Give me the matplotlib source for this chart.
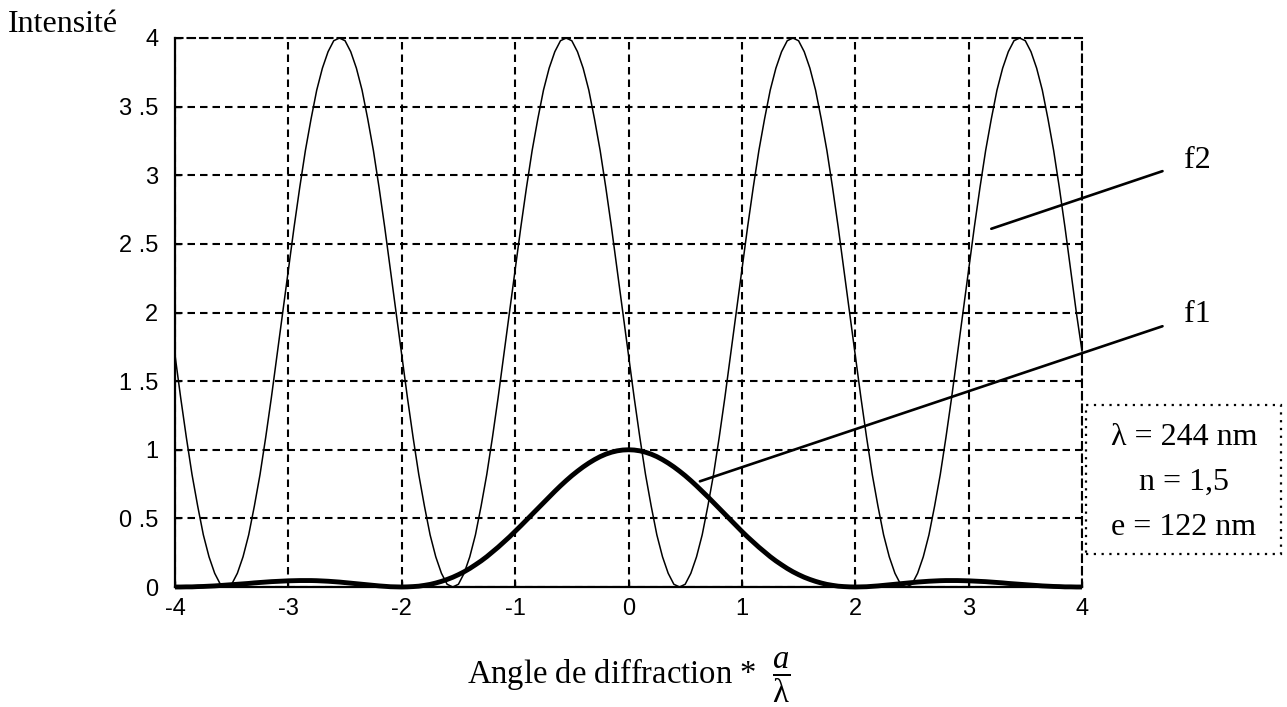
import numpy as np
import matplotlib
matplotlib.use("Agg")
import matplotlib.pyplot as plt
from matplotlib.patches import Rectangle

plt.rcParams['font.family'] = ['Liberation Serif', 'DejaVu Serif']
plt.rcParams['mathtext.fontset'] = 'custom'
plt.rcParams['mathtext.rm'] = 'Liberation Serif'
plt.rcParams['mathtext.it'] = 'Liberation Serif:italic'

# ---------------------------------------------------
# DATA
# ---------------------------------------------------
# sample positions (angle * a / lambda), step 0.05
angle = np.linspace(-4, 4, 161)

# f1 : diffraction by one slit
f1 = [0.000, 0.000, 0.001, 0.001, 0.003, 0.004, 0.006, 0.008, 0.011, 0.014,
      0.017, 0.020, 0.023, 0.026, 0.030, 0.033, 0.036, 0.039, 0.041, 0.043,
      0.045, 0.046, 0.047, 0.047, 0.047, 0.046, 0.044, 0.042, 0.039, 0.036,
      0.032, 0.028, 0.024, 0.020, 0.016, 0.012, 0.008, 0.005, 0.002, 0.001,
      0.000, 0.001, 0.003, 0.006, 0.012, 0.019, 0.029, 0.041, 0.055, 0.071,
      0.090, 0.111, 0.135, 0.162, 0.190, 0.221, 0.255, 0.290, 0.327, 0.365,
      0.405, 0.446, 0.488, 0.530, 0.573, 0.615, 0.657, 0.697, 0.737, 0.775,
      0.811, 0.844, 0.875, 0.903, 0.928, 0.950, 0.968, 0.982, 0.992, 0.998,
      1.000,
      0.998, 0.992, 0.982, 0.968, 0.950, 0.928, 0.903, 0.875, 0.844, 0.811,
      0.775, 0.737, 0.697, 0.657, 0.615, 0.573, 0.530, 0.488, 0.446, 0.405,
      0.365, 0.327, 0.290, 0.255, 0.221, 0.190, 0.162, 0.135, 0.111, 0.090,
      0.071, 0.055, 0.041, 0.029, 0.019, 0.012, 0.006, 0.003, 0.001, 0.000,
      0.001, 0.002, 0.005, 0.008, 0.012, 0.016, 0.020, 0.024, 0.028, 0.032,
      0.036, 0.039, 0.042, 0.044, 0.046, 0.047, 0.047, 0.047, 0.046, 0.045,
      0.043, 0.041, 0.039, 0.036, 0.033, 0.030, 0.026, 0.023, 0.020, 0.017,
      0.014, 0.011, 0.008, 0.006, 0.004, 0.003, 0.001, 0.001, 0.000, 0.000]

# f2 : interference term
f2 = [1.69, 1.38, 1.09, 0.82, 0.59, 0.38, 0.22, 0.10, 0.02, 0.00,
      0.02, 0.10, 0.22, 0.38, 0.59, 0.82, 1.09, 1.38, 1.69, 2.00,
      2.31, 2.62, 2.91, 3.18, 3.41, 3.62, 3.78, 3.90, 3.98, 4.00,
      3.98, 3.90, 3.78, 3.62, 3.41, 3.18, 2.91, 2.62, 2.31, 2.00,
      1.69, 1.38, 1.09, 0.82, 0.59, 0.38, 0.22, 0.10, 0.02, 0.00,
      0.02, 0.10, 0.22, 0.38, 0.59, 0.82, 1.09, 1.38, 1.69, 2.00,
      2.31, 2.62, 2.91, 3.18, 3.41, 3.62, 3.78, 3.90, 3.98, 4.00,
      3.98, 3.90, 3.78, 3.62, 3.41, 3.18, 2.91, 2.62, 2.31, 2.00,
      1.69, 1.38, 1.09, 0.82, 0.59, 0.38, 0.22, 0.10, 0.02, 0.00,
      0.02, 0.10, 0.22, 0.38, 0.59, 0.82, 1.09, 1.38, 1.69, 2.00,
      2.31, 2.62, 2.91, 3.18, 3.41, 3.62, 3.78, 3.90, 3.98, 4.00,
      3.98, 3.90, 3.78, 3.62, 3.41, 3.18, 2.91, 2.62, 2.31, 2.00,
      1.69, 1.38, 1.09, 0.82, 0.59, 0.38, 0.22, 0.10, 0.02, 0.00,
      0.02, 0.10, 0.22, 0.38, 0.59, 0.82, 1.09, 1.38, 1.69, 2.00,
      2.31, 2.62, 2.91, 3.18, 3.41, 3.62, 3.78, 3.90, 3.98, 4.00,
      3.98, 3.90, 3.78, 3.62, 3.41, 3.18, 2.91, 2.62, 2.31, 2.00,
      1.72]

xticks = [-4, -3, -2, -1, 0, 1, 2, 3, 4]
xtick_labels = ['-4', '-3', '-2', '-1', '0', '1', '2', '3', '4']
yticks = [0, 0.5, 1, 1.5, 2, 2.5, 3, 3.5, 4]
ytick_labels = ['0', '0 .5', '1', '1 .5', '2', '2 .5', '3', '3 .5', '4']

params = ['λ = 244 nm', 'n = 1,5', 'e = 122 nm']

# ---------------------------------------------------
# PLOT
# ---------------------------------------------------
W, H = 1287, 707
fig = plt.figure(figsize=(W / 100, H / 100), dpi=100)
ax = fig.add_axes([175 / W, 1 - 587 / H, (1082 - 175) / W, (587 - 38) / H])

dash = (0, (3.6, 2.4))

ax.plot(angle, f2, color='black', lw=1.1, clip_on=False, zorder=3)
ax.plot(angle, f1, color='black', lw=3.5, clip_on=False, zorder=4,
        solid_capstyle='butt')

ax.set_xlim(-4, 4)
ax.set_ylim(0, 4)
ax.set_xticks(xticks)
ax.set_xticklabels(xtick_labels, family='Liberation Sans', fontsize=17)
ax.set_yticks(yticks)
ax.set_yticklabels(ytick_labels, family='Liberation Sans', fontsize=17)
ax.tick_params(direction='in', length=4, width=1)
ax.tick_params(axis='x', pad=8)
ax.tick_params(axis='y', pad=12)

ax.grid(True, color='black', lw=1.5, linestyle=dash)
for side in ['top', 'right']:
    ax.spines[side].set_linestyle(dash)
    ax.spines[side].set_linewidth(1.5)
for side in ['left', 'bottom']:
    ax.spines[side].set_linewidth(1.6)

# axis titles
fig.text(8 / W, 1 - 32 / H, 'Intensité', fontsize=23, va='baseline')
ax.set_xlabel(r'Angle de diffraction *  $\dfrac{a}{\mathrm{\lambda}}$',
              fontsize=23.5, labelpad=22)

# curve labels
ax.annotate('', xy=(3.2, 2.61), xytext=(4.71, 3.03), annotation_clip=False,
            arrowprops=dict(arrowstyle='-', lw=1.9, color='black',
                            shrinkA=0, shrinkB=0))
ax.text(4.9, 3.05, 'f2', fontsize=23, va='baseline', clip_on=False)
ax.annotate('', xy=(0.63, 0.77), xytext=(4.71, 1.9), annotation_clip=False,
            arrowprops=dict(arrowstyle='-', lw=1.9, color='black',
                            shrinkA=0, shrinkB=0))
ax.text(4.9, 1.93, 'f1', fontsize=23, va='baseline', clip_on=False)

# parameters box
box = Rectangle((1086 / W, 1 - 554 / H), (1281 - 1086) / W, (554 - 405) / H,
                transform=fig.transFigure, fill=False, ec='black', lw=1.6,
                linestyle=(0, (1, 2.5)))
fig.patches.append(box)
for i, line in enumerate(params):
    fig.text(1184 / W, 1 - (445 + i * 45) / H, line, fontsize=23,
             ha='center', va='baseline')

fig.savefig('out.png', dpi=100)
